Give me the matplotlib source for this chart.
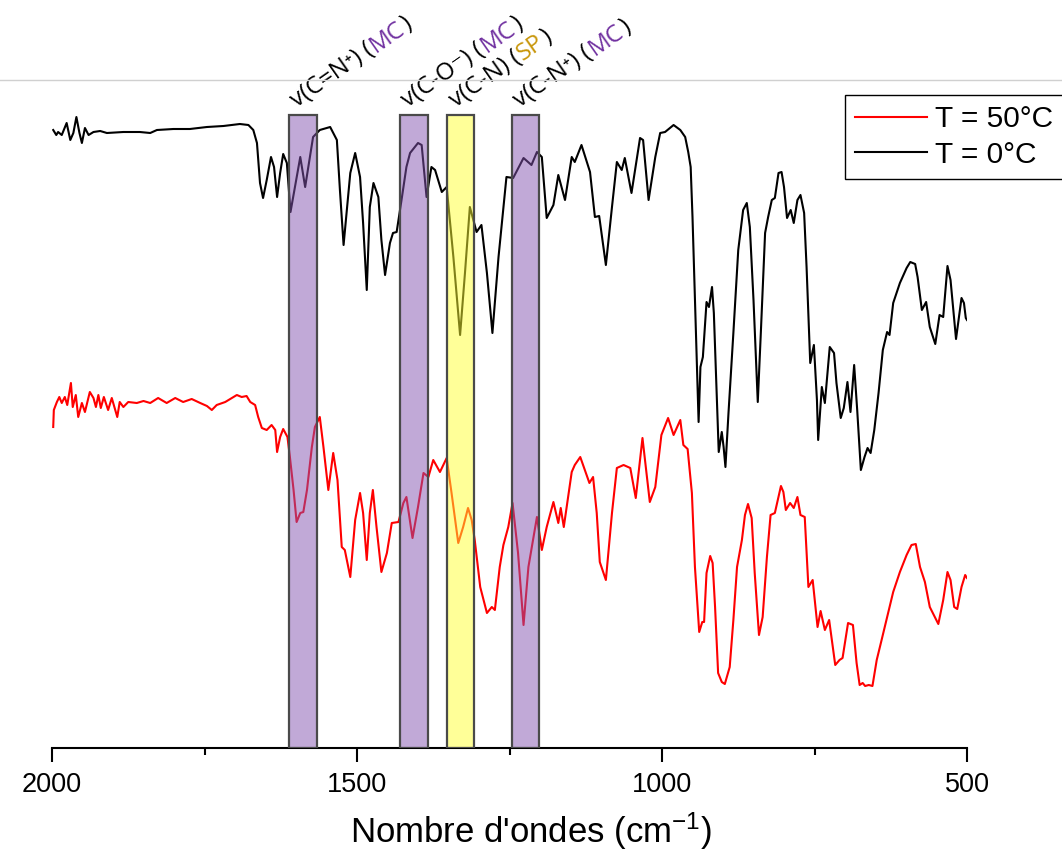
# ir_spectra.py
# -*- coding: utf-8 -*-

import numpy as np
import matplotlib
matplotlib.use("Agg")
import matplotlib.pyplot as plt
from matplotlib.lines import Line2D
from matplotlib.transforms import offset_copy

# Spectrum recorded at T = 0 °C (wavenumber in cm-1, shifted intensity).
wn_cold = [1998, 1993, 1990, 1984, 1976, 1970, 1965, 1960, 1955, 1951,
           1946, 1940, 1932, 1921, 1910, 1883, 1856, 1839, 1828, 1801,
           1774, 1746, 1719, 1692, 1678, 1670, 1664, 1659, 1654, 1648,
           1641, 1636, 1631, 1626, 1621, 1615, 1609, 1593, 1585, 1572,
           1561, 1544, 1533, 1528, 1522, 1511, 1503, 1495, 1490, 1484,
           1479, 1473, 1465, 1460, 1454, 1446, 1441, 1435, 1427, 1419,
           1413, 1400, 1394, 1386, 1378, 1372, 1361, 1353, 1342, 1331,
           1323, 1315, 1304, 1296, 1287, 1278, 1268, 1255, 1244, 1227,
           1214, 1205, 1197, 1189, 1178, 1170, 1159, 1148, 1143, 1132,
           1118, 1110, 1103, 1092, 1082, 1074, 1066, 1061, 1050, 1036,
           1031, 1022, 1011, 1003, 995, 981, 970, 962, 957, 953,
           950, 946, 940, 937, 933, 927, 923, 918, 915, 910,
           907, 902, 899, 896, 891, 883, 875, 867, 861, 856,
           850, 843, 838, 831, 826, 820, 815, 809, 804, 800,
           795, 789, 784, 778, 773, 767, 763, 757, 751, 746,
           744, 738, 733, 725, 718, 714, 707, 702, 696, 691,
           685, 680, 674, 668, 663, 658, 652, 645, 638, 631,
           627, 621, 610, 599, 593, 585, 581, 574, 567, 561,
           552, 545, 539, 532, 527, 518, 509, 505, 502, 500]
int_cold = [618, 613, 616, 613, 625, 608, 615, 631, 615, 605,
            620, 613, 616, 617, 615, 616, 616, 615, 618, 619,
            619, 621, 622, 624, 623, 618, 605, 565, 550, 568,
            591, 581, 551, 575, 594, 585, 536, 591, 561, 611,
            618, 621, 608, 558, 503, 575, 595, 571, 525, 458,
            541, 565, 551, 508, 473, 505, 515, 516, 548, 581,
            595, 605, 603, 551, 581, 578, 556, 561, 491, 413,
            475, 541, 516, 523, 475, 415, 491, 571, 570, 590,
            583, 596, 591, 530, 543, 573, 548, 591, 586, 603,
            576, 531, 532, 483, 541, 586, 578, 590, 555, 610,
            608, 548, 591, 615, 616, 623, 618, 611, 596, 581,
            531, 448, 326, 381, 391, 446, 441, 461, 435, 348,
            296, 316, 301, 281, 335, 415, 498, 538, 545, 521,
            448, 346, 415, 515, 531, 548, 550, 575, 576, 561,
            530, 538, 525, 548, 553, 535, 481, 385, 403, 348,
            308, 361, 345, 401, 395, 365, 330, 340, 366, 336,
            383, 338, 278, 291, 300, 295, 318, 355, 398, 416,
            413, 445, 465, 480, 486, 484, 471, 438, 446, 421,
            404, 433, 431, 482, 468, 409, 450, 445, 430, 428]

# Spectrum recorded at T = 50 °C.
wn_hot = [1998, 1997, 1992, 1988, 1984, 1979, 1975, 1969, 1966, 1961,
          1957, 1951, 1946, 1938, 1932, 1928, 1924, 1920, 1915, 1908,
          1902, 1893, 1889, 1883, 1875, 1861, 1850, 1839, 1826, 1812,
          1798, 1785, 1771, 1757, 1746, 1738, 1730, 1716, 1705, 1697,
          1689, 1681, 1675, 1667, 1662, 1656, 1648, 1640, 1634, 1631,
          1626, 1621, 1614, 1610, 1604, 1599, 1593, 1588, 1582, 1574,
          1569, 1561, 1555, 1547, 1539, 1532, 1525, 1520, 1511, 1503,
          1495, 1490, 1484, 1479, 1474, 1468, 1460, 1451, 1443, 1432,
          1424, 1419, 1409, 1400, 1391, 1383, 1375, 1364, 1353, 1345,
          1334, 1326, 1318, 1312, 1307, 1298, 1287, 1279, 1274, 1266,
          1260, 1252, 1245, 1236, 1227, 1219, 1205, 1197, 1189, 1178,
          1170, 1166, 1161, 1148, 1143, 1134, 1119, 1113, 1107, 1102,
          1092, 1082, 1074, 1063, 1052, 1043, 1032, 1020, 1011, 1001,
          990, 981, 970, 965, 958, 951, 946, 939, 934, 931,
          927, 921, 917, 913, 908, 902, 897, 889, 883, 877,
          869, 864, 859, 853, 848, 841, 835, 828, 822, 815,
          809, 805, 801, 797, 790, 784, 778, 773, 766, 760,
          753, 745, 740, 733, 726, 716, 709, 704, 695, 687,
          681, 676, 671, 667, 661, 655, 648, 640, 629, 621,
          610, 599, 591, 584, 577, 569, 561, 552, 547, 539,
          532, 527, 521, 516, 509, 503, 500]
int_hot = [321, 338, 346, 351, 345, 351, 343, 365, 341, 353,
           331, 345, 336, 356, 350, 341, 353, 340, 351, 338,
           350, 331, 346, 341, 346, 345, 347, 345, 350, 345,
           350, 346, 349, 345, 342, 338, 343, 346, 350, 353,
           351, 352, 346, 343, 331, 320, 318, 323, 318, 296,
           311, 319, 311, 291, 258, 226, 235, 236, 258, 301,
           321, 331, 301, 258, 295, 268, 201, 198, 171, 228,
           255, 235, 188, 235, 258, 221, 176, 195, 225, 226,
           245, 251, 210, 241, 275, 271, 288, 276, 290, 255,
           205, 221, 240, 228, 208, 161, 135, 141, 138, 181,
           203, 221, 245, 195, 123, 181, 231, 198, 221, 246,
           225, 240, 221, 276, 283, 291, 265, 271, 235, 186,
           168, 235, 280, 283, 280, 250, 310, 246, 261, 313,
           330, 313, 328, 303, 299, 255, 181, 116, 126, 126,
           175, 192, 185, 141, 75, 66, 64, 81, 128, 181,
           208, 233, 244, 230, 175, 113, 131, 191, 233, 235,
           251, 262, 256, 238, 245, 240, 251, 233, 231, 161,
           168, 121, 137, 118, 128, 83, 88, 90, 125, 123,
           85, 63, 65, 62, 63, 62, 88, 108, 136, 156,
           176, 193, 203, 204, 181, 166, 141, 130, 124, 148,
           176, 168, 141, 139, 161, 173, 170]

# Highlighted vibration bands.
band_lo = [1566, 1384, 1308, 1202]
band_hi = [1612, 1430, 1352, 1246]
band_names = ["v(C=N\u207a) (", "v(C-O\u207b) (", "v(C-N) (", "v(C-N\u207a) ("]
band_species = ["MC", "MC", "SP", "MC"]

species_fill = {"MC": (0.52, 0.33, 0.69, 0.5), "SP": (1.0, 1.0, 0.2, 0.5)}
species_text = {"MC": "#7030A0", "SP": "#C8960A"}

plt.rcParams["font.family"] = ["Liberation Sans", "DejaVu Sans"]
plt.rcParams["mathtext.fontset"] = "custom"
plt.rcParams["mathtext.rm"] = "Liberation Sans"
plt.rcParams["mathtext.it"] = "Liberation Sans:italic"

fig = plt.figure(figsize=(10.62, 8.52), dpi=100)
ax = fig.add_axes([52 / 1062, 104 / 852, 915 / 1062, 668 / 852])

ax.plot(wn_hot, int_hot, color="red", lw=1.5, label="T = 50°C", zorder=2)
ax.plot(wn_cold, int_cold, color="black", lw=1.5, label="T = 0°C", zorder=2)

ax.set_xlim(2000, 500)
ax.set_ylim(0, 668)

# Bands drawn over the spectra, semi-transparent.
span_top = 633
for lo, hi, sp in zip(band_lo, band_hi, band_species):
    ax.axvspan(lo, hi, ymin=0, ymax=span_top / 668, facecolor=species_fill[sp],
               edgecolor="#4a4a4a", lw=1.6, zorder=3)

# Rotated labels with a coloured species tag.
renderer = fig.canvas.get_renderer()
angle = 35
lab_font = dict(family=["Open Sans", "DejaVu Sans"], fontsize=17.5)


def text_width(s):
    t = fig.text(0, 0, s, **lab_font)
    w = t.get_window_extent(renderer).width
    t.remove()
    return w


for hi, name, sp in zip(band_hi, band_names, band_species):
    x0, y0 = hi - 13, span_top + 7
    pieces = [(name, "black"), (sp, species_text[sp]), (")", "black")]
    shift = 0.0
    for s, c in pieces:
        tr = offset_copy(ax.transData, fig=fig,
                         x=shift * np.cos(np.radians(angle)),
                         y=shift * np.sin(np.radians(angle)), units="dots")
        ax.text(x0, y0, s, color=c, rotation=angle, rotation_mode="anchor",
                ha="left", va="baseline", transform=tr, clip_on=False, **lab_font)
        shift += text_width(s) + 1

# Axis styling: only the bottom axis is shown.
for side in ["left", "right", "top"]:
    ax.spines[side].set_visible(False)
ax.spines["bottom"].set_linewidth(1.5)
ax.set_yticks([])
ax.set_xticks([2000, 1500, 1000, 500])
ax.set_xticks([1750, 1250, 750], minor=True)
ax.tick_params(axis="x", which="major", length=10, width=1.5, labelsize=19.5, pad=7)
ax.tick_params(axis="x", which="minor", length=5, width=1.5)

ax.set_xlabel("Nombre d'ondes (cm$^{-1}$)", fontsize=25)
ax.xaxis.set_label_coords((531 - 52) / 915, -0.094)

# Thin grey line across the top of the figure.
fig.add_artist(Line2D([0, 1], [1 - 80 / 852, 1 - 80 / 852], color="#d0d0d0", lw=1))

ax.legend(loc="upper left", bbox_to_anchor=(845 / 1062, 1 - 95 / 852),
          bbox_transform=fig.transFigure, borderaxespad=0, fontsize=21.5,
          frameon=True, fancybox=False, edgecolor="black", framealpha=1,
          handlelength=2.4, handletextpad=0.25, borderpad=0.35, labelspacing=0.25)

fig.savefig("out.png", dpi=100)
